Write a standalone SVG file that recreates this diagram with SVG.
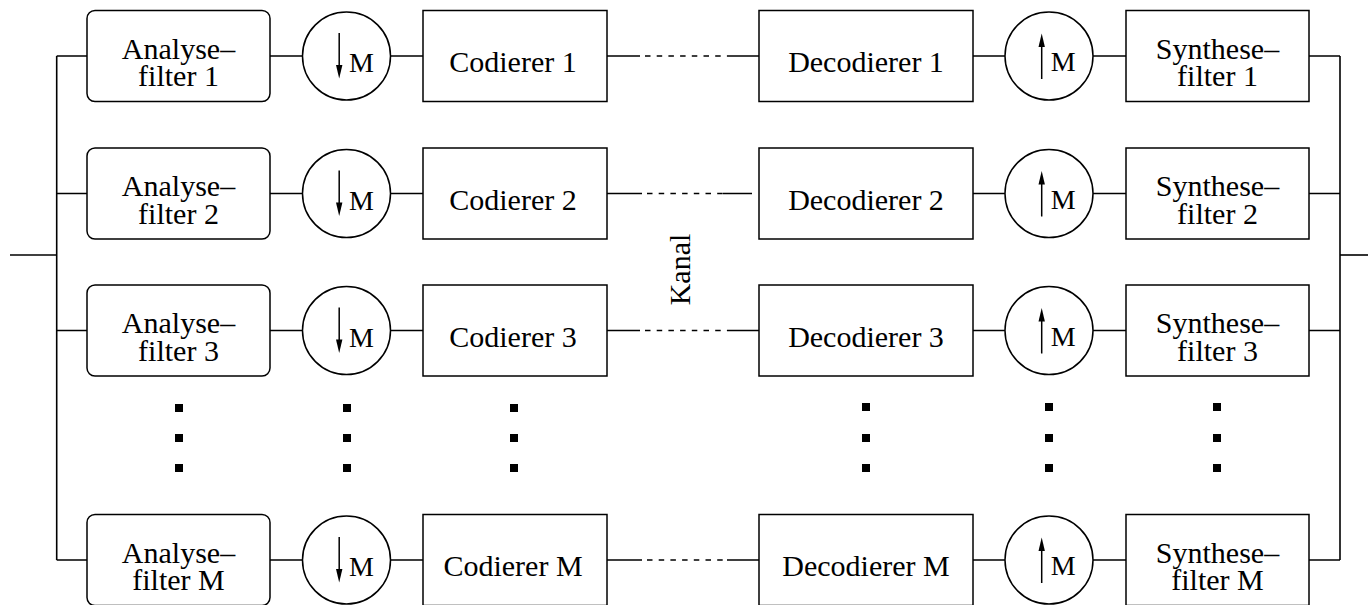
<svg xmlns="http://www.w3.org/2000/svg" width="1368" height="605" viewBox="0 0 1368 605">
<style>
.box{fill:#fff;stroke:#000;stroke-width:1.5}
.ln{fill:none;stroke:#000;stroke-width:1.5}
.bus{fill:none;stroke:#000;stroke-width:1.6}
.dash{fill:none;stroke:#000;stroke-width:1.5;stroke-dasharray:5.5 6.2}
.t{font-family:"Liberation Serif","Times New Roman",serif;font-size:30px;fill:#000;text-anchor:middle}
.m{font-family:"Liberation Serif","Times New Roman",serif;font-size:28px;fill:#000}
.dot{fill:#000}
</style>
<defs>
<g id="down">
<line x1="-7.3" y1="-23" x2="-7.3" y2="10" stroke="#000" stroke-width="1.5"/>
<polygon points="-10.5,9 -4.1,9 -7.3,22.5" fill="#000"/>
<text class="m" x="2.5" y="16">M</text>
</g>
<g id="up">
<line x1="-7.3" y1="23" x2="-7.3" y2="-10" stroke="#000" stroke-width="1.5"/>
<polygon points="-10.5,-9 -4.1,-9 -7.3,-22.5" fill="#000"/>
<text class="m" x="1.7" y="15">M</text>
</g>
</defs>

<g id="connectors">
<line class="bus" x1="10" y1="255" x2="57" y2="255" stroke-width="2"/>
<line class="bus" x1="56.7" y1="56" x2="56.7" y2="560"/>
<line class="bus" x1="1340" y1="56" x2="1340" y2="560"/>
<line class="bus" x1="1340" y1="255" x2="1368" y2="255" stroke-width="2"/>
<g id="row1-lines">
<path class="ln" d="M56.7 56H87M270 56H302.5M390.5 56H423M607 56H640M727 56H759M973 56H1005M1093 56H1126M1309 56H1340"/>
<path class="dash" d="M645 56H727"/>
</g>
<g id="row2-lines">
<path class="ln" d="M56.7 193.5H87M270 193.5H302.5M390.5 193.5H423M607 193.5H642M723 193.5H752M973 193.5H1005M1093 193.5H1126M1309 193.5H1340"/>
<path class="dash" d="M647 193.5H723"/>
</g>
<g id="row3-lines">
<path class="ln" d="M56.7 330.5H87M270 330.5H302.5M390.5 330.5H423M607 330.5H640M728 330.5H759M973 330.5H1005M1093 330.5H1126M1309 330.5H1340"/>
<path class="dash" d="M645 330.5H728"/>
</g>
<g id="rowM-lines">
<path class="ln" d="M56.7 560H87M270 560H302.5M390.5 560H423M607 560H642M727 560H759M973 560H1005M1093 560H1126M1309 560H1340"/>
<path class="dash" d="M647 560H727"/>
</g>
</g>

<g id="analyse1"><rect class="box" x="87" y="10.5" width="183" height="91" rx="8"/><text class="t" x="178.5" y="58.5">Analyse–</text><text class="t" x="178.5" y="86">filter 1</text></g>
<g id="down1"><circle class="box" cx="346.5" cy="56" r="44"/><use href="#down" x="346.5" y="56"/></g>
<g id="codierer1"><rect class="box" x="423" y="10.5" width="184" height="91"/><text class="t" x="513" y="72.3">Codierer 1</text></g>
<g id="decodierer1"><rect class="box" x="759" y="10.5" width="214" height="91"/><text class="t" x="866" y="72.3">Decodierer 1</text></g>
<g id="up1"><circle class="box" cx="1049" cy="56" r="44"/><use href="#up" x="1049" y="56"/></g>
<g id="synthese1"><rect class="box" x="1126" y="10.5" width="183" height="91"/><text class="t" x="1217.5" y="58.5">Synthese–</text><text class="t" x="1217.5" y="86">filter 1</text></g>

<g id="analyse2"><rect class="box" x="87" y="148" width="183" height="91" rx="8"/><text class="t" x="178.5" y="196">Analyse–</text><text class="t" x="178.5" y="223.5">filter 2</text></g>
<g id="down2"><circle class="box" cx="346.5" cy="193.5" r="44"/><use href="#down" x="346.5" y="193.5"/></g>
<g id="codierer2"><rect class="box" x="423" y="148" width="184" height="91"/><text class="t" x="513" y="209.8">Codierer 2</text></g>
<g id="decodierer2"><rect class="box" x="759" y="148" width="214" height="91"/><text class="t" x="866" y="209.8">Decodierer 2</text></g>
<g id="up2"><circle class="box" cx="1049" cy="193.5" r="44"/><use href="#up" x="1049" y="193.5"/></g>
<g id="synthese2"><rect class="box" x="1126" y="148" width="183" height="91"/><text class="t" x="1217.5" y="196">Synthese–</text><text class="t" x="1217.5" y="223.5">filter 2</text></g>

<g id="analyse3"><rect class="box" x="87" y="285" width="183" height="91" rx="8"/><text class="t" x="178.5" y="333">Analyse–</text><text class="t" x="178.5" y="360.5">filter 3</text></g>
<g id="down3"><circle class="box" cx="346.5" cy="330.5" r="44"/><use href="#down" x="346.5" y="330.5"/></g>
<g id="codierer3"><rect class="box" x="423" y="285" width="184" height="91"/><text class="t" x="513" y="346.8">Codierer 3</text></g>
<g id="decodierer3"><rect class="box" x="759" y="285" width="214" height="91"/><text class="t" x="866" y="346.8">Decodierer 3</text></g>
<g id="up3"><circle class="box" cx="1049" cy="330.5" r="44"/><use href="#up" x="1049" y="330.5"/></g>
<g id="synthese3"><rect class="box" x="1126" y="285" width="183" height="91"/><text class="t" x="1217.5" y="333">Synthese–</text><text class="t" x="1217.5" y="360.5">filter 3</text></g>

<g id="analyseM"><rect class="box" x="87" y="514.5" width="183" height="91" rx="8"/><text class="t" x="178.5" y="562.5">Analyse–</text><text class="t" x="178.5" y="590">filter M</text></g>
<g id="downM"><circle class="box" cx="346.5" cy="560" r="44"/><use href="#down" x="346.5" y="560"/></g>
<g id="codiererM"><rect class="box" x="423" y="514.5" width="184" height="91"/><text class="t" x="513" y="576.3">Codierer M</text></g>
<g id="decodiererM"><rect class="box" x="759" y="514.5" width="214" height="91"/><text class="t" x="866" y="576.3">Decodierer M</text></g>
<g id="upM"><circle class="box" cx="1049" cy="560" r="44"/><use href="#up" x="1049" y="560"/></g>
<g id="syntheseM"><rect class="box" x="1126" y="514.5" width="183" height="91"/><text class="t" x="1217.5" y="562.5">Synthese–</text><text class="t" x="1217.5" y="590">filter M</text></g>

<g id="kanal"><text class="t" transform="translate(690 269.5) rotate(-90)" x="0" y="0">Kanal</text></g>

<g id="ellipsis">
<g class="dot">
<rect x="175" y="404" width="8" height="8"/><rect x="175" y="434" width="8" height="8"/><rect x="175" y="464" width="8" height="8"/>
<rect x="343" y="404" width="8" height="8"/><rect x="343" y="434" width="8" height="8"/><rect x="343" y="464" width="8" height="8"/>
<rect x="510" y="404" width="8" height="8"/><rect x="510" y="434" width="8" height="8"/><rect x="510" y="464" width="8" height="8"/>
<rect x="862" y="403" width="8" height="8"/><rect x="862" y="434" width="8" height="8"/><rect x="862" y="464" width="8" height="8"/>
<rect x="1045" y="403" width="8" height="8"/><rect x="1045" y="434" width="8" height="8"/><rect x="1045" y="464" width="8" height="8"/>
<rect x="1213" y="403" width="8" height="8"/><rect x="1213" y="434" width="8" height="8"/><rect x="1213" y="464" width="8" height="8"/>
</g>
</g>
</svg>
